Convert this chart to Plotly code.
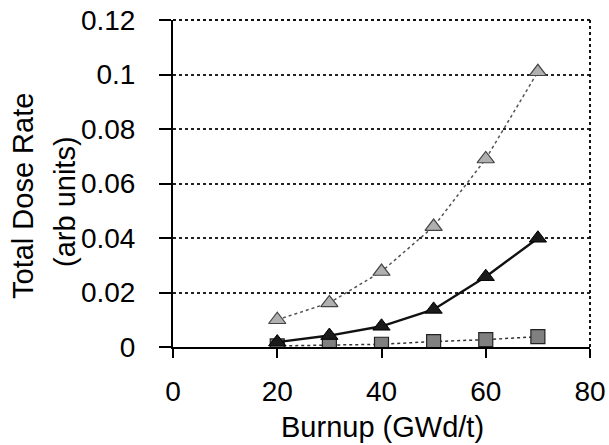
import plotly.graph_objects as go

burnup = [20, 30, 40, 50, 60, 70]
dose_light_tri = [0.0100, 0.0162, 0.0277, 0.0442, 0.0690, 0.1010]
dose_black_tri = [0.0018, 0.0042, 0.0076, 0.0138, 0.0258, 0.0399]
dose_square = [0.0004, 0.0006, 0.0010, 0.0020, 0.0027, 0.0038]

x_ticks = [0, 20, 40, 60, 80]
y_ticks = [0, 0.02, 0.04, 0.06, 0.08, 0.1, 0.12]
y_labels = ["0", "0.02", "0.04", "0.06", "0.08", "0.1", "0.12"]

x_title = "Burnup (GWd/t)"
y_title_1 = "Total Dose Rate"
y_title_2 = "(arb units)"

fig = go.Figure()
fig.add_trace(go.Scatter(
    x=burnup, y=dose_light_tri, mode="lines+markers",
    line=dict(color="#555555", width=1.5, dash="dot"),
    marker=dict(symbol="triangle-up", size=15, color="#b0b0b0",
                line=dict(color="#444444", width=1.2)),
    showlegend=False))
fig.add_trace(go.Scatter(
    x=burnup, y=dose_square, mode="lines+markers",
    line=dict(color="#333333", width=1.5, dash="dot"),
    marker=dict(symbol="square", size=14, color="#808080",
                line=dict(color="#222222", width=1.2)),
    showlegend=False))
fig.add_trace(go.Scatter(
    x=burnup, y=dose_black_tri, mode="lines+markers",
    line=dict(color="#111111", width=2.4),
    marker=dict(symbol="triangle-up", size=15, color="#1a1a1a",
                line=dict(color="#000000", width=1)),
    showlegend=False))

# dotted frame on top and right
fig.add_shape(type="line", xref="paper", yref="paper", x0=0, x1=1, y0=1, y1=1,
              line=dict(color="#111111", width=2, dash="dot"))
fig.add_shape(type="line", xref="paper", yref="paper", x0=1, x1=1, y0=0, y1=1,
              line=dict(color="#111111", width=2, dash="dot"))

font = "Liberation Sans, Arial, Helvetica, sans-serif"
tick_font = dict(family=font, size=28, color="black")
title_font = dict(family=font, size=29, color="black")

PW, PH = 417.0, 327.0  # plot area size in px

# axis titles as annotations (pixel-placed)
fig.add_annotation(text=y_title_1, xref="paper", yref="paper", x=-150 / PW,
                   y=(347 - 196) / PH, xanchor="center", yanchor="middle",
                   textangle=-90, showarrow=False, font=title_font)
fig.add_annotation(text=y_title_2, xref="paper", yref="paper", x=-108 / PW,
                   y=(347 - 202) / PH, xanchor="center", yanchor="middle",
                   textangle=-90, showarrow=False, font=title_font)
fig.add_annotation(text=x_title, xref="paper", yref="paper", x=(382 - 173) / PW,
                   y=(347 - 445) / PH, xanchor="center", yanchor="bottom",
                   showarrow=False, font=title_font)

fig.update_layout(
    width=609, height=445,
    margin=dict(l=173, r=19, t=20, b=98, autoexpand=False),
    paper_bgcolor="white", plot_bgcolor="white",
    font=dict(family=font, color="black"),
    xaxis=dict(range=[0, 80], tickvals=x_ticks, ticks="outside", ticklen=9,
               tickcolor="black", tickwidth=1.5, automargin=False,
               showline=True, linecolor="black", linewidth=2,
               showgrid=False, zeroline=False,
               tickfont=tick_font, ticklabelstandoff=9),
    yaxis=dict(range=[0, 0.12], tickvals=y_ticks, ticktext=y_labels,
               ticks="outside", ticklen=12, tickcolor="black", tickwidth=1.5,
               automargin=False,
               showline=True, linecolor="black", linewidth=2,
               showgrid=True, gridcolor="#222222", griddash="dot", gridwidth=1.5,
               zeroline=False, tickfont=tick_font, ticklabelstandoff=18),
)

fig.write_html("out.html")
